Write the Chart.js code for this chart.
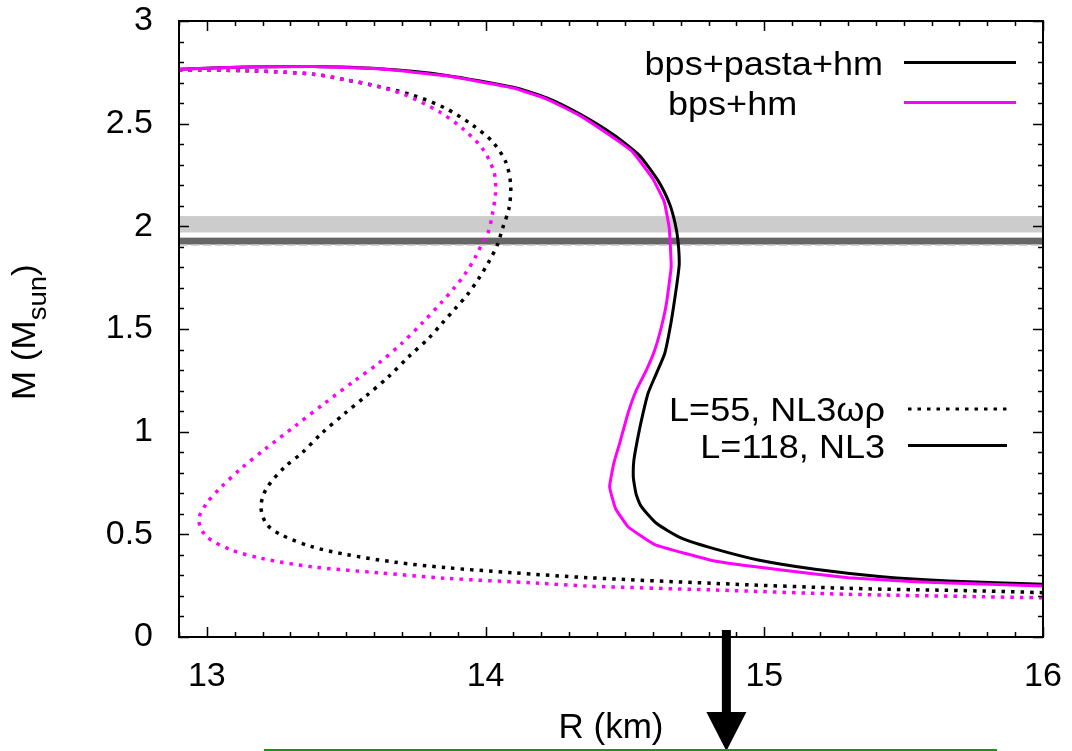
<!DOCTYPE html>
<html>
<head>
<meta charset="utf-8">
<script src="https://cdn.jsdelivr.net/npm/chart.js@4.4.1/dist/chart.umd.min.js"></script>
<style>
  html, body { margin: 0; padding: 0; background: #ffffff; }
  #wrap { width: 1072px; height: 751px; }
</style>
</head>
<body>
<div id="wrap"><canvas id="mr" width="1072" height="751"></canvas></div>
<script>
// Mass-radius relations: NL3 (L=118) and NL3wr (L=55), each with bps+pasta+hm and bps+hm crusts
const nl3PastaR = [12.90, 13.14, 13.38, 13.62, 13.86, 14.10, 14.22, 14.34, 14.46, 14.55, 14.62, 14.66, 14.68, 14.69, 14.695, 14.69, 14.68, 14.665, 14.643, 14.613, 14.583, 14.565, 14.547, 14.532, 14.530, 14.535, 14.541, 14.559, 14.613, 14.703, 14.822, 14.978, 15.182, 15.422, 15.662, 16.0];
const nl3PastaM = [2.765, 2.776, 2.778, 2.767, 2.735, 2.677, 2.625, 2.545, 2.445, 2.348, 2.220, 2.110, 2.015, 1.934, 1.820, 1.755, 1.658, 1.528, 1.382, 1.284, 1.187, 1.090, 0.976, 0.860, 0.780, 0.732, 0.692, 0.635, 0.554, 0.481, 0.429, 0.375, 0.330, 0.294, 0.273, 0.257];

const nl3R = [12.90, 13.14, 13.38, 13.62, 13.86, 14.10, 14.22, 14.34, 14.45, 14.527, 14.599, 14.641, 14.659, 14.666, 14.649, 14.631, 14.607, 14.577, 14.541, 14.511, 14.481, 14.460, 14.445, 14.466, 14.511, 14.607, 14.822, 15.062, 15.302, 15.542, 15.782, 16.0];
const nl3M = [2.765, 2.776, 2.778, 2.767, 2.733, 2.674, 2.620, 2.538, 2.440, 2.364, 2.234, 2.120, 1.991, 1.804, 1.625, 1.511, 1.398, 1.300, 1.203, 1.090, 0.943, 0.846, 0.732, 0.627, 0.537, 0.450, 0.370, 0.326, 0.289, 0.269, 0.258, 0.248];

const nl3wrPastaR = [12.90, 13.14, 13.38, 13.50, 13.616, 13.736, 13.856, 13.952, 14.024, 14.072, 14.090, 14.084, 14.062, 14.042, 14.012, 13.976, 13.934, 13.892, 13.844, 13.796, 13.724, 13.652, 13.568, 13.496, 13.412, 13.340, 13.281, 13.214, 13.194, 13.214, 13.268, 13.376, 13.496, 13.676, 13.856, 14.096, 14.367, 14.822, 15.302, 15.782, 16.0];
const nl3wrPastaM = [2.760, 2.758, 2.741, 2.713, 2.681, 2.640, 2.575, 2.494, 2.413, 2.315, 2.202, 2.088, 1.995, 1.909, 1.828, 1.747, 1.666, 1.601, 1.528, 1.455, 1.365, 1.268, 1.170, 1.090, 0.992, 0.895, 0.830, 0.724, 0.635, 0.550, 0.497, 0.440, 0.403, 0.364, 0.338, 0.313, 0.289, 0.261, 0.237, 0.224, 0.216];

const nl3wrR = [12.90, 13.14, 13.38, 13.50, 13.592, 13.712, 13.832, 13.916, 13.988, 14.030, 14.036, 14.024, 14.010, 13.994, 13.964, 13.928, 13.886, 13.844, 13.772, 13.700, 13.616, 13.532, 13.424, 13.317, 13.209, 13.124, 13.047, 12.999, 12.971, 12.999, 13.088, 13.196, 13.376, 13.616, 13.856, 14.192, 14.367, 14.822, 15.302, 15.782, 16.0];
const nl3wrM = [2.760, 2.758, 2.741, 2.713, 2.689, 2.640, 2.559, 2.478, 2.380, 2.266, 2.169, 2.056, 1.974, 1.934, 1.852, 1.771, 1.698, 1.633, 1.528, 1.431, 1.333, 1.250, 1.140, 1.028, 0.915, 0.822, 0.724, 0.651, 0.570, 0.489, 0.424, 0.383, 0.342, 0.313, 0.286, 0.262, 0.248, 0.229, 0.208, 0.196, 0.191];

// Observed pulsar masses (shaded bands, in solar masses)
const massBandLight = [1.97, 2.05];
const massBandDark = [1.911, 1.945];

// Axis ticks
const xTickValues = [13, 14, 15, 16];
const yTickValues = [0, 0.5, 1, 1.5, 2, 2.5, 3];
const xRange = [12.9, 16];
const yRange = [0, 3];

// Marker arrow and baseline rule under the axis (radius values, km)
const arrowR = 14.864;
const ruleR = [13.205, 15.835];

const FONT = "'Liberation Sans', Arial, Helvetica, sans-serif";

function pts(rs, ms) { return rs.map((r, i) => ({ x: r, y: ms[i] })); }

const decorations = {
  id: 'decorations',
  beforeDatasetsDraw(chart) {
    const { ctx, chartArea: a, scales: { y } } = chart;
    ctx.save();
    ctx.beginPath(); ctx.rect(a.left, a.top, a.right - a.left, a.bottom - a.top); ctx.clip();
    const yl0 = y.getPixelForValue(massBandLight[1]), yl1 = y.getPixelForValue(massBandLight[0]);
    ctx.fillStyle = '#cccccc';
    ctx.fillRect(a.left, yl0, a.right - a.left, yl1 - yl0);
    const yd0 = y.getPixelForValue(massBandDark[1]), yd1 = y.getPixelForValue(massBandDark[0]);
    ctx.fillStyle = '#666666';
    ctx.fillRect(a.left, yd0, a.right - a.left, yd1 - yd0);
    ctx.strokeStyle = '#c4c4c4'; ctx.lineWidth = 1.5; ctx.setLineDash([8, 4]);
    ctx.beginPath(); ctx.moveTo(a.left, yd1 + 0.5); ctx.lineTo(a.right, yd1 + 0.5); ctx.stroke();
    ctx.restore();
  },
  afterDatasetsDraw(chart) {
    const { ctx, chartArea: a, scales: { x, y } } = chart;
    ctx.save();
    // frame
    ctx.strokeStyle = '#000'; ctx.lineWidth = 2; ctx.setLineDash([]);
    ctx.strokeRect(a.left, a.top, a.right - a.left, a.bottom - a.top);
    // inward ticks on all four sides
    ctx.lineWidth = 1.5;
    ctx.beginPath();
    for (let k = 129; k <= 160; k++) {
      const v = k / 10;
      const px = Math.round(x.getPixelForValue(v)) + 0.5;
      const len = (k % 10 === 0) ? 10 : 5;
      ctx.moveTo(px, a.bottom); ctx.lineTo(px, a.bottom - len);
      ctx.moveTo(px, a.top); ctx.lineTo(px, a.top + len);
    }
    for (let k = 0; k <= 30; k++) {
      const v = k / 10;
      const py = Math.round(y.getPixelForValue(v)) + 0.5;
      const len = (k % 5 === 0) ? 10 : 5;
      ctx.moveTo(a.left, py); ctx.lineTo(a.left + len, py);
      ctx.moveTo(a.right, py); ctx.lineTo(a.right - len, py);
    }
    ctx.stroke();

    // legend
    ctx.fillStyle = '#000';
    ctx.textBaseline = 'alphabetic';
    const legendText = (txt, px, py, align) => {
      ctx.save();
      ctx.font = '34px ' + FONT;
      const w = ctx.measureText(txt).width * 1.06;
      const left = align === 'right' ? px - w : px;
      ctx.translate(left, py); ctx.scale(1.06, 1);
      ctx.textAlign = 'left';
      ctx.fillText(txt, 0, 0);
      ctx.restore();
    };
    const sample = (x0, x1, py, color, dash) => {
      ctx.save();
      ctx.strokeStyle = color; ctx.lineWidth = 3; ctx.lineCap = 'butt';
      ctx.setLineDash(dash || []);
      ctx.beginPath(); ctx.moveTo(x0, py); ctx.lineTo(x1, py); ctx.stroke();
      ctx.restore();
    };
    legendText('bps+pasta+hm', 883, 75, 'right');
    sample(904, 1016, 62.5, '#000000');
    legendText('bps+hm', 668, 115, 'left');
    sample(904, 1016, 102.5, '#ff00ff');
    legendText('L=55, NL3\u03c9\u03c1', 885, 421, 'right');
    sample(908, 1007, 409, '#000000', [3.5, 6]);
    legendText('L=118, NL3', 885, 458, 'right');
    sample(908, 1007, 445.5, '#000000');

    // y axis title with subscript
    ctx.save();
    ctx.translate(35, 400);
    ctx.rotate(-Math.PI / 2);
    ctx.scale(1.06, 1);
    ctx.textAlign = 'left';
    ctx.font = '33px ' + FONT;
    let cx = 0;
    ctx.fillText('M (M', cx, 0); cx += ctx.measureText('M (M').width;
    ctx.font = '26px ' + FONT;
    ctx.fillText('sun', cx, 11); cx += ctx.measureText('sun').width;
    ctx.font = '33px ' + FONT;
    ctx.fillText(')', cx, 0);
    ctx.restore();

    // arrow below the axis
    const ax = x.getPixelForValue(arrowR);
    ctx.fillStyle = '#000';
    ctx.fillRect(ax - 4.5, 630, 9, 84);
    ctx.beginPath();
    ctx.moveTo(ax - 20, 712); ctx.lineTo(ax + 20, 712); ctx.lineTo(ax, 751); ctx.closePath();
    ctx.fill();

    // green rule at the bottom edge
    ctx.strokeStyle = '#129912'; ctx.lineWidth = 2;
    ctx.beginPath();
    ctx.moveTo(x.getPixelForValue(ruleR[0]), 750);
    ctx.lineTo(x.getPixelForValue(ruleR[1]), 750);
    ctx.stroke();
    ctx.restore();
  }
};

const lineBase = { showLine: true, pointRadius: 0, borderCapStyle: 'butt', borderJoinStyle: 'round', fill: false };

function noPad(s) { s.paddingTop = 0; s.paddingBottom = 0; s.paddingLeft = 0; s.paddingRight = 0; }

new Chart(document.getElementById('mr'), {
  type: 'scatter',
  data: {
    datasets: [
      Object.assign({}, lineBase, { label: 'bps+hm, L=118, NL3', data: pts(nl3R, nl3M), borderColor: '#ff00ff', borderWidth: 3, tension: 0.1, order: 0 }),
      Object.assign({}, lineBase, { label: 'bps+hm, L=55, NL3\u03c9\u03c1', data: pts(nl3wrR, nl3wrM), borderColor: '#ff00ff', borderWidth: 3.5, borderDash: [3.5, 6], tension: 0.3, order: 0 }),
      Object.assign({}, lineBase, { label: 'bps+pasta+hm, L=118, NL3', data: pts(nl3PastaR, nl3PastaM), borderColor: '#000000', borderWidth: 3, tension: 0.2, order: 1 }),
      Object.assign({}, lineBase, { label: 'bps+pasta+hm, L=55, NL3\u03c9\u03c1', data: pts(nl3wrPastaR, nl3wrPastaM), borderColor: '#000000', borderWidth: 3.5, borderDash: [3.5, 6], tension: 0.3, order: 1 })
    ]
  },
  options: {
    responsive: false,
    animation: false,
    devicePixelRatio: 1,
    layout: { padding: { top: 21, right: 29, left: 0, bottom: 0 } },
    plugins: { legend: { display: false }, tooltip: { enabled: false } },
    scales: {
      x: {
        type: 'linear', position: 'bottom', min: xRange[0], max: xRange[1],
        afterFit(s) { s.height = 114; noPad(s); },
        afterBuildTicks(s) { s.ticks = xTickValues.map(v => ({ value: v })); },
        grid: { display: false, drawTicks: false },
        border: { display: false },
        ticks: { color: '#000', font: { family: FONT, size: 34 }, padding: 19, maxRotation: 0, autoSkip: false, callback: v => String(v) },
        title: { display: true, text: 'R (km)', color: '#000', font: { family: FONT, size: 35 }, padding: { top: 0, bottom: 2 } }
      },
      y: {
        type: 'linear', min: yRange[0], max: yRange[1],
        afterFit(s) { s.width = 179; noPad(s); },
        afterBuildTicks(s) { s.ticks = yTickValues.map(v => ({ value: v })); },
        grid: { display: false, drawTicks: false },
        border: { display: false },
        ticks: { color: '#000', font: { family: FONT, size: 34 }, padding: 26, autoSkip: false, callback: v => String(v) }
      }
    }
  },
  plugins: [decorations]
});
</script>
</body>
</html>
